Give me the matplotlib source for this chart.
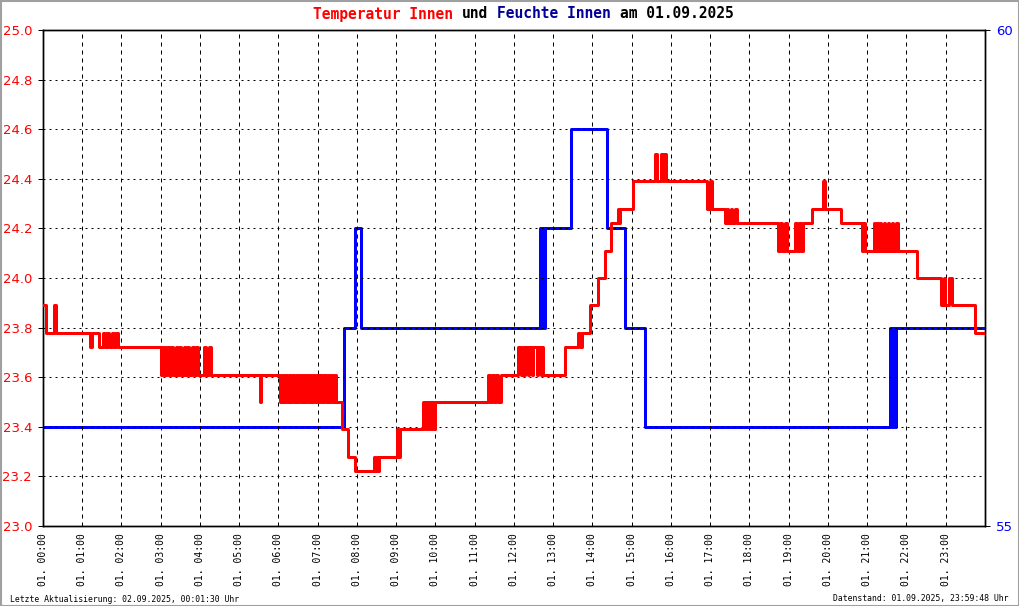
import matplotlib
matplotlib.use("Agg")
import matplotlib.pyplot as plt
from matplotlib.patches import Rectangle

# ---------------- data ----------------
hour_labels = ["01. %02d:00" % h for h in range(24)]
hour_ticks = list(range(24))

temp_hours = [
    0.00, 0.08, 0.27, 0.32, 1.20, 1.26,
    1.43, 1.52, 1.57, 1.63, 1.68, 1.75, 1.80, 1.85, 1.92,
    3.01, 3.06, 3.10, 3.16, 3.20, 3.27, 3.31, 3.38, 3.42, 3.47, 3.52, 3.58,
    3.62, 3.68, 3.72, 3.80, 3.84, 3.90, 3.95, 4.10, 4.16, 4.22, 4.27,
    5.52, 5.56,
    6.04, 6.08, 6.12, 6.17, 6.21, 6.26, 6.30, 6.35, 6.39, 6.44, 6.48, 6.53,
    6.57, 6.62, 6.66, 6.71, 6.75, 6.80, 6.84, 6.89, 6.93, 6.98, 7.02, 7.07,
    7.11, 7.16, 7.20, 7.25, 7.29, 7.34, 7.38, 7.43, 7.47,
    7.50, 7.63, 7.78, 7.95,
    8.44, 8.47, 8.50, 8.53, 8.57,
    9.02, 9.05, 9.09,
    9.69, 9.72, 9.76, 9.80, 9.84, 9.88, 9.92, 9.96, 10.00,
    11.35, 11.40, 11.45, 11.50, 11.55, 11.60, 11.66,
    12.11, 12.17, 12.22, 12.26, 12.28, 12.35, 12.38, 12.46, 12.49, 12.58,
    12.61, 12.68, 12.72, 12.75,
    13.29, 13.64, 13.68, 13.72, 13.93, 14.13, 14.33, 14.46, 14.64, 14.67,
    14.70, 15.02, 15.58, 15.64, 15.74, 15.79, 15.81, 15.88,
    16.91, 16.99, 17.04,
    17.37, 17.42, 17.45, 17.52, 17.55, 17.63, 17.67,
    18.72, 18.78, 18.84, 18.90, 18.96, 19.16, 19.20, 19.26, 19.30, 19.36,
    19.59, 19.86, 19.92, 20.33,
    20.86, 20.90, 20.95, 21.17, 21.20, 21.24, 21.28, 21.32, 21.36, 21.42,
    21.46, 21.52, 21.56, 21.62, 21.66, 21.72, 21.78,
    22.28, 22.88, 22.95, 22.98, 23.08, 23.15, 23.75, 24.00,
]
temp_values = [
    23.89, 23.78, 23.89, 23.78, 23.72, 23.78,
    23.72, 23.78, 23.72, 23.78, 23.72, 23.78, 23.72, 23.78, 23.72,
    23.61, 23.72, 23.61, 23.72, 23.61, 23.72, 23.61, 23.72, 23.61, 23.72, 23.61, 23.72,
    23.61, 23.72, 23.61, 23.72, 23.61, 23.72, 23.61, 23.72, 23.61, 23.72, 23.61,
    23.50, 23.61,
    23.50, 23.61, 23.50, 23.61, 23.50, 23.61, 23.50, 23.61, 23.50, 23.61, 23.50, 23.61,
    23.50, 23.61, 23.50, 23.61, 23.50, 23.61, 23.50, 23.61, 23.50, 23.61, 23.50, 23.61,
    23.50, 23.61, 23.50, 23.61, 23.50, 23.61, 23.50, 23.61, 23.50,
    23.50, 23.39, 23.28, 23.22,
    23.28, 23.22, 23.28, 23.22, 23.28,
    23.39, 23.28, 23.39,
    23.50, 23.39, 23.50, 23.39, 23.50, 23.39, 23.50, 23.39, 23.50,
    23.61, 23.50, 23.61, 23.50, 23.61, 23.50, 23.61,
    23.72, 23.61, 23.72, 23.61, 23.72, 23.61, 23.72, 23.61, 23.72, 23.61,
    23.72, 23.61, 23.72, 23.61,
    23.72, 23.78, 23.72, 23.78, 23.89, 24.00, 24.11, 24.22, 24.28, 24.22,
    24.28, 24.39, 24.50, 24.39, 24.50, 24.39, 24.50, 24.39,
    24.28, 24.39, 24.28,
    24.22, 24.28, 24.22, 24.28, 24.22, 24.28, 24.22,
    24.11, 24.22, 24.11, 24.22, 24.11, 24.22, 24.11, 24.22, 24.11, 24.22,
    24.28, 24.39, 24.28, 24.22,
    24.11, 24.22, 24.11, 24.22, 24.11, 24.22, 24.11, 24.22, 24.11, 24.22,
    24.11, 24.22, 24.11, 24.22, 24.11, 24.22, 24.11,
    24.00, 23.89, 24.00, 23.89, 24.00, 23.89, 23.78, 23.78,
]

hum_hours = [0.00, 7.68, 7.94, 8.11,
             12.65, 12.69, 12.72, 12.76, 12.79, 12.83,
             13.44, 14.38, 14.83, 15.35,
             21.58, 21.62, 21.66, 21.70, 21.74, 21.78, 24.00]
hum_values = [56, 57, 58, 57,
              58, 57, 58, 57, 58, 58,
              59, 58, 57, 56,
              57, 56, 57, 56, 57, 57, 57]

title_parts = [("Temperatur Innen", "#ff0000"), ("und", "#000000"),
               ("Feuchte Innen", "#000099"), ("am 01.09.2025", "#000000")]
footer_left = "Letzte Aktualisierung: 02.09.2025, 00:01:30 Uhr"
footer_right = "Datenstand: 01.09.2025, 23:59:48 Uhr"

# ---------------- figure ----------------
plt.rcParams['lines.scale_dashes'] = False
fig = plt.figure(figsize=(10.2, 6.06), dpi=100)
fig.patch.set_facecolor("white")
ax = fig.add_axes([43/1020, 1-526/606, (985-43)/1020, (526-30)/606])
ax2 = ax.twinx()

ax.set_xlim(0, 24)
ax.set_ylim(23.0, 25.0)
ax2.set_ylim(55, 60)

px = 0.72
# grid
for h in range(1, 24):
    ax.axvline(h, color="black", lw=px, linestyle=(0, (4*px, 4*px)), zorder=1)
for v in [23.2, 23.4, 23.6, 23.8, 24.0, 24.2, 24.4, 24.6, 24.8]:
    ax.axhline(v, color="black", lw=px, linestyle=(0, (2*px, 4*px)), zorder=1)

ax2.plot(hum_hours, hum_values, drawstyle="steps-post", color="#0000ff", lw=3*px, zorder=3)
ax.plot(temp_hours, temp_values, drawstyle="steps-post", color="#ff0000", lw=3*px, zorder=4)

ax.set_zorder(ax2.get_zorder() + 1)
ax.patch.set_visible(False)

ax.set_yticks([23.0 + 0.2*i for i in range(11)])
ax.set_yticklabels(["%.1f" % (23.0 + 0.2*i) for i in range(11)])
ax.tick_params(axis="y", colors="black", labelcolor="#ff0000", length=3.6,
               width=px, pad=4.3, labelsize=9.5, direction="out")
ax.set_xticks(hour_ticks)
ax.set_xticklabels(hour_labels, rotation=90, family="DejaVu Sans Mono", fontsize=7)
ax.tick_params(axis="x", length=0, pad=5)

ax2.set_yticks([55, 60])
ax2.set_yticklabels(["55", "60"])
ax2.tick_params(axis="y", colors="black", labelcolor="#0000ff", length=3.6,
                width=px, pad=4.3, labelsize=9.5)

for a in (ax, ax2):
    for s in a.spines.values():
        s.set_color("black")
        s.set_linewidth(1.4*px)

# title: monospace segments placed one character cell apart
fs_title = 10.5
cell_px = 0.602 * fs_title / 72 * 100
x_px = 313.0
for txt, col in title_parts:
    fig.text(x_px/1020, 1-14/606, txt, color=col, ha="left", va="center",
             family="DejaVu Sans Mono", fontweight="bold", fontsize=fs_title)
    x_px += (len(txt) + 1) * cell_px

fig.text(10/1020, 1-599/606, footer_left, ha="left", va="center",
         family="DejaVu Sans Mono", fontsize=5.9)
fig.text(1009/1020, 1-599/606, footer_right, ha="right", va="center",
         family="DejaVu Sans Mono", fontsize=5.9)

fig.patches.append(Rectangle((0.5/1020, 0.5/606), 1-1.5/1020, 1-1.5/606, transform=fig.transFigure,
                             fill=False, edgecolor="#a0a0a0", lw=1.5))

fig.savefig("out.png", dpi=100)
